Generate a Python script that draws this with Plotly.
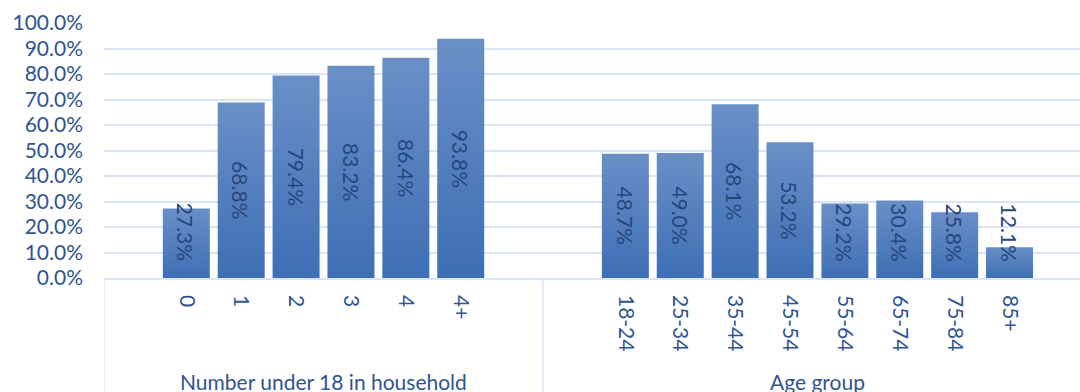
import plotly.graph_objects as go

# Share of respondents, by household composition and by age
household_labels = ["0", "1", "2", "3", "4", "4+"]
household_values = [0.273, 0.688, 0.794, 0.832, 0.864, 0.938]

age_labels = ["18-24", "25-34", "35-44", "45-54", "55-64", "65-74", "75-84", "85+"]
age_values = [0.487, 0.490, 0.681, 0.532, 0.292, 0.304, 0.258, 0.121]

group_titles = ["Number under 18 in household", "Age group"]

y_ticks = [i / 10 for i in range(11)]

FONT = "Lato"
TICK_COLOR = "#2f5492"
LABEL_COLOR = "#27477a"
GRID_COLOR = "#d9e4f4"
BAR_TOP = "#6a8fc7"
BAR_BOTTOM = "#3d6fb5"
BAR_HALF = 0.428
LABEL_MIN_Y = 0.18

# slot layout: one blank slot around each group, groups side by side
g1_start = 1
g2_start = len(household_labels) + 3
pos1 = [g1_start + i for i in range(len(household_labels))]
pos2 = [g2_start + i for i in range(len(age_labels))]
dividers = [-0.5, len(household_labels) + 1.5, len(household_labels) + 2 + len(age_labels) + 1.5]
group_centers = [(dividers[0] + dividers[1]) / 2, (dividers[1] + dividers[2]) / 2]

positions = pos1 + pos2
labels = household_labels + age_labels
values = household_values + age_values

fig = go.Figure()

for x, v in zip(positions, values):
    fig.add_trace(go.Scatter(
        x=[x - BAR_HALF, x + BAR_HALF, x + BAR_HALF, x - BAR_HALF, x - BAR_HALF],
        y=[0, 0, v, v, 0],
        mode="lines",
        line=dict(width=0),
        fill="toself",
        fillgradient=dict(type="vertical",
                          colorscale=[[0, BAR_BOTTOM], [1, BAR_TOP]]),
        hoverinfo="skip",
        showlegend=False,
    ))

annotations = []
for x, v in zip(positions, values):
    annotations.append(dict(
        x=x, y=max(v / 2, LABEL_MIN_Y), xref="x", yref="y",
        text=f"{v * 100:.1f}%", textangle=90, showarrow=False,
        font=dict(family=FONT, size=21, color=LABEL_COLOR),
        xanchor="center", yanchor="middle",
    ))

for cx, title in zip(group_centers, group_titles):
    annotations.append(dict(
        x=cx, y=-0.348, xref="x", yref="paper",
        text=title, showarrow=False,
        font=dict(family=FONT, size=21, color=TICK_COLOR),
        xanchor="center", yanchor="top",
    ))

shapes = [dict(type="line", xref="x", yref="paper", x0=d, x1=d, y0=0, y1=-0.5,
               line=dict(color=GRID_COLOR, width=1.5)) for d in dividers]

fig.update_layout(
    width=1080, height=392,
    margin=dict(l=104.2, r=0, t=23, b=114.3, autoexpand=False),
    paper_bgcolor="white", plot_bgcolor="white",
    font=dict(family=FONT, size=21, color=TICK_COLOR),
    annotations=annotations,
    shapes=shapes,
    xaxis=dict(
        range=[-0.5, 17.284],
        tickmode="array", tickvals=positions, ticktext=labels,
        tickangle=90, ticks="", ticklabelstandoff=11,
        showgrid=False, zeroline=False,
        showline=True, linecolor=GRID_COLOR, linewidth=1.5,
        tickfont=dict(family=FONT, size=21, color=TICK_COLOR),
    ),
    yaxis=dict(
        range=[0, 1], tickmode="array", tickvals=y_ticks,
        tickformat=".1%", showgrid=True, gridcolor=GRID_COLOR, gridwidth=1.5,
        zeroline=False, showline=False, ticks="", ticklabelstandoff=20,
        tickfont=dict(family=FONT, size=21, color=TICK_COLOR),
    ),
)

fig.write_html("out.html")
